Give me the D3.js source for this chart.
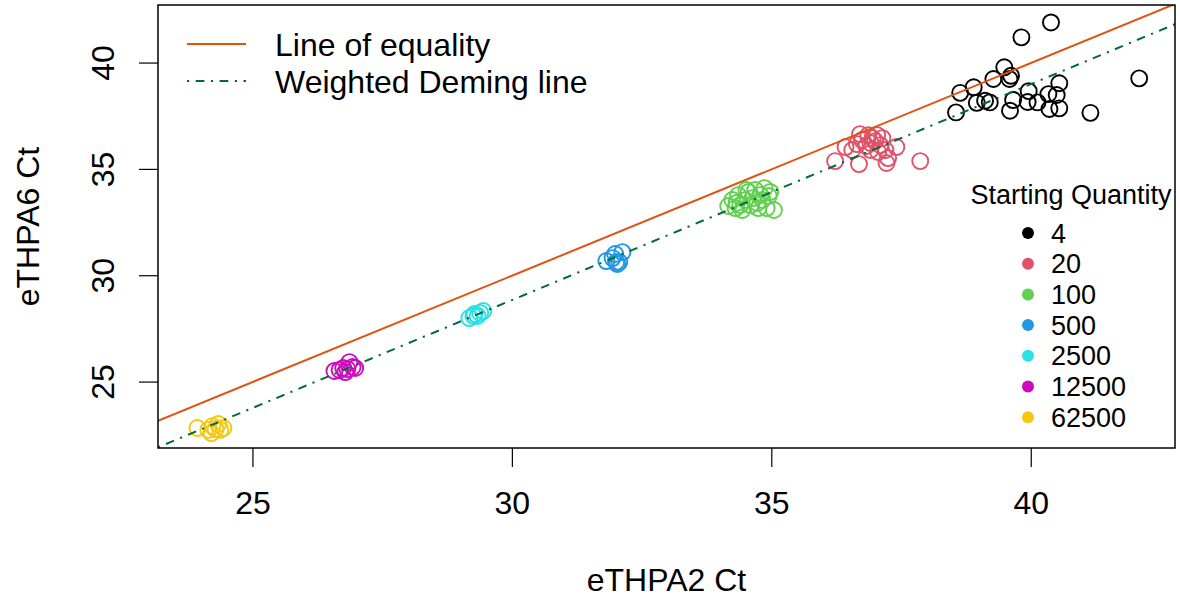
<!DOCTYPE html>
<html>
<head>
<meta charset="utf-8">
<script src="https://cdn.jsdelivr.net/npm/d3@7/dist/d3.min.js"></script>
<style>
  body { margin: 0; background: #fff; }
  svg { display: block; }
  text { font-family: "Liberation Sans", Arial, Helvetica, sans-serif; fill: #000; }
</style>
</head>
<body>
<svg id="chart" width="1180" height="602"></svg>
<script>
// Starting quantities and their colours
const quantities = ["4", "20", "100", "500", "2500", "12500", "62500"];
const groupColors = ["#000000", "#DF536B", "#61D04F", "#2297E6", "#28E2E5", "#CD0BBC", "#F5C710"];

// Axis ticks
const xTicks = [25, 30, 35, 40];
const yTicks = [25, 30, 35, 40];

// Ct values per starting quantity: eTHPA2 (x) and eTHPA6 (y)
const q4X = [40.39, 39.82, 39.49, 39.62, 39.59, 39.28, 38.90, 38.64, 38.96, 39.12, 39.21, 38.56,
             39.66, 39.60, 39.96, 39.94, 40.13, 40.34, 40.55, 40.50, 40.36, 40.55, 41.15, 42.09];
const q4Y = [41.91, 41.21, 39.80, 39.40, 39.25, 39.25, 38.86, 38.60, 38.13, 38.23, 38.15, 37.68,
             38.26, 37.76, 38.68, 38.17, 38.15, 38.54, 39.05, 38.50, 37.84, 37.87, 37.66, 39.28];

const q20X = [36.23, 36.43, 36.56, 36.65, 36.71, 36.69, 36.75, 36.83, 36.87, 36.91, 36.95, 37.00,
              37.04, 37.10, 37.14, 37.20, 37.22, 37.25, 37.41, 37.87, 36.91, 37.06];
const q20Y = [35.39, 36.05, 35.91, 36.19, 36.66, 35.25, 36.38, 36.10, 36.61, 35.91, 36.47, 36.33,
              36.61, 36.14, 36.47, 35.91, 35.30, 35.53, 36.05, 35.39, 36.24, 35.82];

const q100X = [34.17, 34.25, 34.31, 34.36, 34.40, 34.44, 34.50, 34.56, 34.60, 34.64, 34.69, 34.73,
               34.79, 34.83, 34.87, 34.91, 34.95, 34.98, 35.05, 34.75, 34.52, 34.33];
const q100Y = [33.28, 33.56, 33.18, 33.79, 33.32, 33.09, 33.56, 33.94, 33.32, 33.65, 34.03, 33.42,
               33.79, 33.56, 34.12, 33.18, 33.75, 33.94, 33.09, 33.18, 34.03, 33.42];

const q500X = [31.82, 31.94, 31.99, 32.03, 32.07, 32.13, 32.01];
const q500Y = [30.69, 30.83, 31.02, 30.55, 30.64, 31.11, 30.64];

const q2500X = [29.18, 29.26, 29.34, 29.39, 29.45, 29.28];
const q2500Y = [28.01, 28.11, 28.11, 28.25, 28.34, 28.20];

const q12500X = [26.58, 26.68, 26.75, 26.83, 26.87, 26.93, 26.98, 26.79];
const q12500Y = [25.52, 25.57, 25.66, 25.61, 25.94, 25.71, 25.66, 25.47];

const q62500X = [23.94, 24.15, 24.23, 24.29, 24.34, 24.38, 24.44, 24.21];
const q62500Y = [22.84, 22.75, 22.93, 22.79, 23.03, 22.75, 22.84, 22.60];

// Weighted Deming regression fit
const demingSlope = 1.015;
const demingIntercept = -1.595;

const groupX = [q4X, q20X, q100X, q500X, q2500X, q12500X, q62500X];
const groupY = [q4Y, q20Y, q100Y, q500Y, q2500Y, q12500Y, q62500Y];

const points = [];
quantities.forEach((q, gi) => {
  groupX[gi].forEach((xv, i) => points.push({ q, color: groupColors[gi], x: xv, y: groupY[gi][i] }));
});

// Layout
const plot = { left: 158, right: 1175, top: 5, bottom: 448 };
const svg = d3.select("#chart");

const x = d3.scaleLinear().domain([23.18, 42.78]).range([plot.left, plot.right]);
const y = d3.scaleLinear().domain([21.90, 42.73]).range([plot.bottom, plot.top]);

svg.append("defs").append("clipPath").attr("id", "plotClip")
  .append("rect")
  .attr("x", plot.left).attr("y", plot.top)
  .attr("width", plot.right - plot.left).attr("height", plot.bottom - plot.top);

// Axes
const xAxis = svg.append("g")
  .attr("transform", `translate(0,${plot.bottom})`)
  .call(d3.axisBottom(x).tickValues(xTicks).tickFormat(d3.format("d")).tickSize(19).tickPadding(24));
const yAxis = svg.append("g")
  .attr("transform", `translate(${plot.left},0)`)
  .call(d3.axisLeft(y).tickValues(yTicks).tickFormat(d3.format("d")).tickSize(19).tickPadding(0));

[xAxis, yAxis].forEach(g => {
  g.select(".domain").remove();
  g.selectAll(".tick line").attr("stroke", "#000").attr("stroke-width", 1.2);
  g.selectAll(".tick text").style("font-size", "32px").attr("fill", "#000");
});
xAxis.selectAll(".tick text").attr("dy", "0.71em");
yAxis.selectAll(".tick text")
  .attr("text-anchor", "middle")
  .attr("dy", 0)
  .attr("transform", d => `translate(${114 - plot.left},${y(d)}) rotate(-90)`)
  .attr("x", 0)
  .attr("y", 0)
  .each(function () { d3.select(this.parentNode).attr("transform", "translate(0,0)"); });
yAxis.selectAll(".tick line")
  .attr("transform", d => `translate(0,${y(d)})`);

// Points
const pts = svg.append("g").attr("clip-path", "url(#plotClip)");
pts.selectAll("circle").data(points).join("circle")
  .attr("cx", d => x(d.x))
  .attr("cy", d => y(d.y))
  .attr("r", 8)
  .attr("fill", "none")
  .attr("stroke", d => d.color)
  .attr("stroke-width", 1.9);

// Reference lines
const xd = x.domain();
const lines = svg.append("g").attr("clip-path", "url(#plotClip)");
lines.append("line")
  .attr("x1", x(xd[0])).attr("y1", y(xd[0]))
  .attr("x2", x(xd[1])).attr("y2", y(xd[1]))
  .attr("stroke", "#E0530F").attr("stroke-width", 2);
lines.append("line")
  .attr("x1", x(xd[0])).attr("y1", y(demingSlope * xd[0] + demingIntercept))
  .attr("x2", x(xd[1])).attr("y2", y(demingSlope * xd[1] + demingIntercept))
  .attr("stroke", "#006B3C").attr("stroke-width", 2)
  .attr("stroke-dasharray", "2.2,6.5,8.7,6.5");

// Plot frame
svg.append("rect")
  .attr("x", plot.left).attr("y", plot.top)
  .attr("width", plot.right - plot.left).attr("height", plot.bottom - plot.top)
  .attr("fill", "none").attr("stroke", "#000").attr("stroke-width", 1.5);

// Axis titles
svg.append("text")
  .attr("x", (plot.left + plot.right) / 2).attr("y", 591)
  .attr("text-anchor", "middle").style("font-size", "32px")
  .text("eTHPA2 Ct");
svg.append("text")
  .attr("transform", `translate(39,${(plot.top + plot.bottom) / 2}) rotate(-90)`)
  .attr("text-anchor", "middle").style("font-size", "32px")
  .text("eTHPA6 Ct");

// Line legend
const lineLegend = [
  { label: "Line of equality", color: "#E0530F", dash: null, y: 44 },
  { label: "Weighted Deming line", color: "#006B3C", dash: "2.2,6.5,8.7,6.5", y: 81 }
];
const ll = svg.append("g");
lineLegend.forEach(d => {
  ll.append("line")
    .attr("x1", 187).attr("x2", 246).attr("y1", d.y).attr("y2", d.y)
    .attr("stroke", d.color).attr("stroke-width", 2)
    .attr("stroke-dasharray", d.dash);
  ll.append("text")
    .attr("x", 275).attr("y", d.y + 11.5)
    .style("font-size", "32px")
    .text(d.label);
});

// Starting quantity legend
const ql = svg.append("g");
ql.append("text")
  .attr("x", 1071).attr("y", 204)
  .attr("text-anchor", "middle").style("font-size", "27px")
  .text("Starting Quantity");
quantities.forEach((q, i) => {
  const cy = 233 + i * 30.7;
  ql.append("circle").attr("cx", 1028).attr("cy", cy).attr("r", 6).attr("fill", groupColors[i]);
  ql.append("text")
    .attr("x", 1051).attr("y", cy + 9.5)
    .style("font-size", "27px")
    .text(q);
});
</script>
</body>
</html>
